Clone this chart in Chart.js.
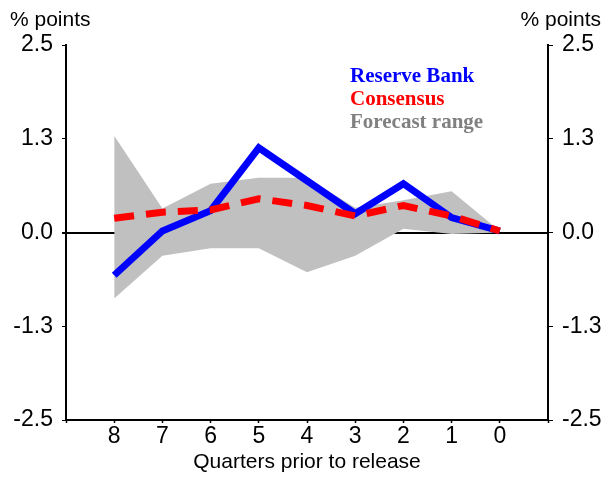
<!DOCTYPE html>
<html>
<head>
<meta charset="utf-8">
<script src="https://cdn.jsdelivr.net/npm/chart.js@4"></script>
<style>
  body { margin: 0; background: #fff; }
  #caja { width: 608px; height: 477px; }
</style>
</head>
<body>
<div id="caja"><canvas id="grafico" width="608" height="477"></canvas></div>
<script>
// Datos
const trimestres = [8, 7, 6, 5, 4, 3, 2, 1, 0];
const bancoReserva = [-0.57, 0.02, 0.29, 1.13, 0.69, 0.25, 0.65, 0.2, 0.02];
const consenso = [0.19, 0.27, 0.3, 0.45, 0.36, 0.22, 0.36, 0.22, 0.02];
const rangoAlto = [1.29, 0.32, 0.65, 0.73, 0.73, 0.33, 0.43, 0.55, 0.02];
const rangoBajo = [-0.88, -0.31, -0.21, -0.21, -0.53, -0.31, 0.05, -0.02, 0.0];
const ticksY = [-2.5, -1.25, 0, 1.25, 2.5];

const leyenda = [
  { texto: 'Reserve Bank', color: '#0000ff' },
  { texto: 'Consensus', color: '#ff0000' },
  { texto: 'Forecast range', color: '#808080' }
];

const aPuntos = (vals) => vals.map((v, i) => ({ x: trimestres[i], y: v }));

// Textos extra: etiquetas de unidades y leyenda dentro del área
const textosExtra = {
  id: 'textosExtra',
  afterDraw(chart) {
    const ctx = chart.ctx;
    ctx.save();
    ctx.font = '21px "Liberation Sans", Arial, sans-serif';
    ctx.fillStyle = '#000';
    ctx.textBaseline = 'alphabetic';
    ctx.textAlign = 'left';
    ctx.fillText('% points', 10, 26);
    ctx.textAlign = 'right';
    ctx.fillText('% points', 601, 26);

    ctx.textAlign = 'left';
    ctx.font = 'bold 21px "Liberation Serif", "Times New Roman", serif';
    leyenda.forEach((item, i) => {
      ctx.fillStyle = item.color;
      ctx.fillText(item.texto, 350, 82 + i * 23);
    });
    ctx.restore();
  }
};

const fuenteTicks = { family: '"Liberation Sans", Arial, sans-serif', size: 23 };

new Chart(document.getElementById('grafico'), {
  type: 'line',
  data: {
    datasets: [
      {
        label: 'Consensus',
        data: aPuntos(consenso),
        borderColor: '#ff0000',
        borderWidth: 7,
        borderDash: [20, 12],
        pointRadius: 0,
        fill: false,
        order: 0
      },
      {
        label: 'Reserve Bank',
        data: aPuntos(bancoReserva),
        borderColor: '#0000ff',
        borderWidth: 7,
        pointRadius: 0,
        fill: false,
        order: 1
      },
      {
        label: 'Forecast range high',
        data: aPuntos(rangoAlto),
        borderWidth: 0,
        borderColor: 'rgba(0,0,0,0)',
        pointRadius: 0,
        backgroundColor: '#c0c0c0',
        fill: '+1',
        order: 2
      },
      {
        label: 'Forecast range low',
        data: aPuntos(rangoBajo),
        borderWidth: 0,
        borderColor: 'rgba(0,0,0,0)',
        pointRadius: 0,
        fill: false,
        order: 3
      }
    ]
  },
  options: {
    responsive: false,
    animation: false,
    devicePixelRatio: 1,
    layout: { padding: { top: 45, left: 0, right: 0, bottom: 0 } },
    plugins: {
      legend: { display: false },
      tooltip: { enabled: false }
    },
    scales: {
      x: {
        type: 'linear',
        reverse: true,
        min: -1,
        max: 9,
        afterFit(scale) { scale.height = 57; },
        afterBuildTicks(scale) {
          scale.ticks = [9, 8, 7, 6, 5, 4, 3, 2, 1, 0, -1].map(v => ({ value: v }));
        },
        ticks: {
          autoSkip: false,
          maxRotation: 0,
          padding: 0,
          color: '#000',
          font: fuenteTicks,
          callback: (v) => (trimestres.includes(v) ? String(v) : '')
        },
        grid: {
          drawOnChartArea: false,
          drawTicks: true,
          tickLength: 3,
          tickColor: '#000',
          tickWidth: 1.5
        },
        border: { display: true, color: '#000', width: 2 },
        title: {
          display: true,
          text: 'Quarters prior to release',
          color: '#000',
          font: { family: '"Liberation Sans", Arial, sans-serif', size: 21 },
          padding: { top: 0, bottom: 2 }
        }
      },
      y: {
        position: 'left',
        min: -2.5,
        max: 2.5,
        afterFit(scale) { scale.width = 66; },
        afterBuildTicks(scale) { scale.ticks = ticksY.map(v => ({ value: v })); },
        ticks: {
          padding: 9,
          color: '#000',
          font: fuenteTicks,
          callback: (v) => v.toFixed(1)
        },
        grid: {
          drawTicks: true,
          tickLength: 4,
          tickColor: '#000',
          color: (c) => (c.tick && c.tick.value === 0 ? '#000' : 'rgba(0,0,0,0)'),
          lineWidth: (c) => (c.tick && c.tick.value === 0 ? 2 : 1)
        },
        border: { display: true, color: '#000', width: 2 }
      },
      y2: {
        position: 'right',
        min: -2.5,
        max: 2.5,
        afterFit(scale) { scale.width = 60; },
        afterBuildTicks(scale) { scale.ticks = ticksY.map(v => ({ value: v })); },
        ticks: {
          padding: 9,
          color: '#000',
          font: fuenteTicks,
          callback: (v) => v.toFixed(1)
        },
        grid: {
          drawOnChartArea: false,
          drawTicks: true,
          tickLength: 5,
          tickColor: '#000'
        },
        border: { display: true, color: '#000', width: 2 }
      }
    }
  },
  plugins: [textosExtra]
});
</script>
</body>
</html>
